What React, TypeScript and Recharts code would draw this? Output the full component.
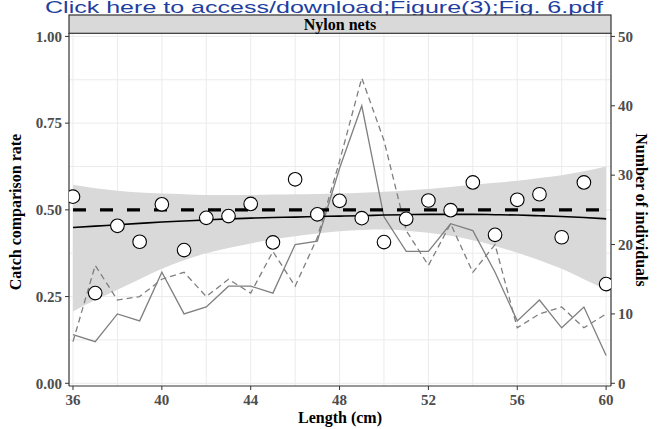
import React from 'react';
import {
  ComposedChart,
  Area,
  Line,
  Scatter,
  XAxis,
  YAxis,
  CartesianGrid,
  ReferenceLine,
} from 'recharts';

// length classes (cm)
const lengths = [36, 37, 38, 39, 40, 41, 42, 43, 44, 45, 46, 47, 48, 49, 50, 51, 52, 53, 54, 55, 56, 57, 58, 59, 60];

// observed catch comparison rate
const catchRate = [0.538, 0.26, 0.454, 0.408, 0.516, 0.384, 0.477, 0.482, 0.517, 0.406, 0.588, 0.487, 0.526, 0.476, 0.407, 0.474, 0.527, 0.499, 0.579, 0.428, 0.529, 0.545, 0.421, 0.579, 0.286];

// fitted curve and its confidence band
const fitted = [0.449, 0.453, 0.457, 0.461, 0.465, 0.468, 0.471, 0.474, 0.476, 0.478, 0.479, 0.481, 0.482, 0.483, 0.485, 0.486, 0.487, 0.487, 0.487, 0.486, 0.485, 0.483, 0.481, 0.478, 0.474];
const bandLow = [0.207, 0.24, 0.27, 0.3, 0.33, 0.355, 0.375, 0.39, 0.403, 0.415, 0.424, 0.432, 0.438, 0.442, 0.443, 0.44, 0.434, 0.425, 0.412, 0.396, 0.376, 0.355, 0.33, 0.3, 0.269];
const bandHigh = [0.572, 0.562, 0.555, 0.55, 0.547, 0.545, 0.543, 0.543, 0.543, 0.544, 0.545, 0.546, 0.547, 0.549, 0.552, 0.556, 0.56, 0.566, 0.572, 0.578, 0.584, 0.592, 0.6, 0.611, 0.625];

// number of individuals (right axis)
const countSolid = [7, 6, 10, 9, 16, 10, 11, 14, 14, 13, 20, 20.5, 31, 40, 24, 19, 19, 23, 22, 16, 9, 12, 8, 11, 4];
const countDashed = [6, 17, 12, 12.5, 15, 16, 12.5, 15, 13, 19, 14, 21, 32, 44, 35, 22, 17, 23, 16, 20, 8, 10, 11, 8, 10];

const xTicks = [36, 40, 44, 48, 52, 56, 60];
const xGrid = [36, 38, 40, 42, 44, 46, 48, 50, 52, 54, 56, 58, 60];
const rateTicks = [0, 0.25, 0.5, 0.75, 1];
const rateGrid = [0, 0.125, 0.25, 0.375, 0.5, 0.625, 0.75, 0.875, 1];
const countTicks = [0, 10, 20, 30, 40, 50];

const data = lengths.map((len, i) => ({
  len,
  rate: catchRate[i],
  fit: fitted[i],
  band: [bandLow[i], bandHigh[i]],
  nSolid: countSolid[i],
  nDashed: countDashed[i],
}));

const serif = '"Liberation Serif", "Times New Roman", serif';
const tickStyle = { fill: '#4D4D4D', fontFamily: serif, fontWeight: 700, fontSize: 15 };
const titleStyle: React.CSSProperties = { fontFamily: serif, fontWeight: 700, fontSize: 16 };

const Dot = (props: any) => {
  const { cx, cy } = props;
  return <circle cx={cx} cy={cy} r={6.8} fill="#FFFFFF" stroke="#000000" strokeWidth={1.1} />;
};

export default function App() {
  return (
    <div style={{ position: 'absolute', left: 0, top: 0, width: 658, height: 429, background: '#FFFFFF' }}>
      <ComposedChart
        width={658}
        height={429}
        data={data}
        margin={{ top: 33, right: 0, bottom: 0, left: 0 }}
      >
        <CartesianGrid
          yAxisId="left"
          stroke="#EBEBEB"
          strokeWidth={1}
          verticalValues={xGrid}
          horizontalValues={rateGrid}
        />
        <XAxis
          dataKey="len"
          type="number"
          domain={[35.82, 60.22]}
          allowDataOverflow
          ticks={xTicks}
          height={43}
          tickSize={4}
          tickMargin={4}
          tick={tickStyle}
          axisLine={{ stroke: '#333333', strokeWidth: 1.2 }}
          tickLine={{ stroke: '#333333' }}
        />
        <YAxis
          yAxisId="left"
          type="number"
          domain={[-0.0078, 1.0098]}
          allowDataOverflow
          ticks={rateTicks}
          width={69}
          tickSize={4}
          tickMargin={3}
          tick={tickStyle}
          tickFormatter={(v: number) => v.toFixed(2)}
          axisLine={{ stroke: '#333333', strokeWidth: 1.2 }}
          tickLine={{ stroke: '#333333' }}
        />
        <YAxis
          yAxisId="right"
          orientation="right"
          type="number"
          domain={[-0.39, 50.49]}
          allowDataOverflow
          ticks={countTicks}
          width={47}
          tickSize={4}
          tickMargin={3}
          tick={tickStyle}
          axisLine={{ stroke: '#333333', strokeWidth: 1.2 }}
          tickLine={{ stroke: '#333333' }}
        />
        <Area
          yAxisId="left"
          dataKey="band"
          type="monotone"
          fill="#D9D9D9"
          fillOpacity={1}
          stroke="none"
          isAnimationActive={false}
        />
        <Line
          yAxisId="right"
          dataKey="nSolid"
          type="linear"
          stroke="#7F7F7F"
          strokeWidth={1.3}
          dot={false}
          isAnimationActive={false}
        />
        <Line
          yAxisId="right"
          dataKey="nDashed"
          type="linear"
          stroke="#7F7F7F"
          strokeWidth={1.3}
          strokeDasharray="6 4"
          dot={false}
          isAnimationActive={false}
        />
        <ReferenceLine
          yAxisId="left"
          segment={[{ x: 36, y: 0.5 }, { x: 60, y: 0.5 }]}
          stroke="#000000"
          strokeWidth={3.2}
          strokeDasharray="13 14"
        />
        <Line
          yAxisId="left"
          dataKey="fit"
          type="monotone"
          stroke="#000000"
          strokeWidth={1.6}
          dot={false}
          isAnimationActive={false}
        />
        <Scatter
          yAxisId="left"
          dataKey="rate"
          shape={<Dot />}
          isAnimationActive={false}
        />
      </ComposedChart>
      <svg
        width={658}
        height={429}
        style={{ position: 'absolute', left: 0, top: 0, pointerEvents: 'none' }}
      >
        <text
          x={45}
          y={13}
          fill="#1F3F9F"
          fontFamily='"Liberation Sans", Arial, sans-serif'
          fontSize={17}
          textLength={558}
          lengthAdjust="spacingAndGlyphs"
        >
          Click here to access/download;Figure(3);Fig. 6.pdf
        </text>
        <rect x={69} y={15} width={542} height={18.3} fill="#D9D9D9" stroke="#333333" strokeWidth={1.2} />
        <text x={340} y={29.5} textAnchor="middle" fill="#000000" style={titleStyle}>
          Nylon nets
        </text>
        <text x={340} y={423} textAnchor="middle" fill="#000000" style={titleStyle}>
          Length (cm)
        </text>
        <text
          transform="translate(21,212) rotate(-90)"
          textAnchor="middle"
          fill="#000000"
          style={titleStyle}
        >
          Catch comparison rate
        </text>
        <text
          transform="translate(636,210) rotate(90)"
          textAnchor="middle"
          fill="#000000"
          style={titleStyle}
        >
          Number of individuals
        </text>
      </svg>
    </div>
  );
}
